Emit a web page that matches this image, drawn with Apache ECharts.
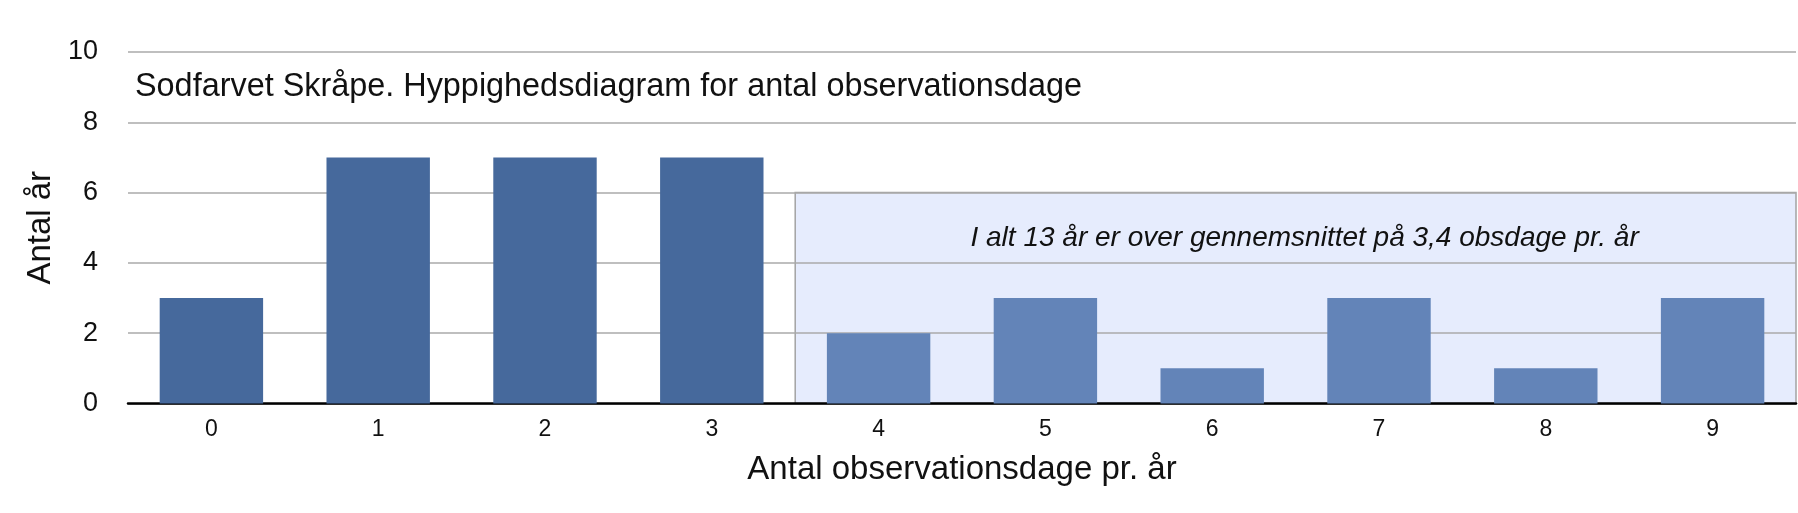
<!DOCTYPE html>
<html>
<head>
<meta charset="utf-8">
<script src="https://cdn.jsdelivr.net/npm/echarts@6/dist/echarts.min.js"></script>
<style>
html,body{margin:0;padding:0;background:#fff;}
#c{width:1798px;height:513px;}
</style>
</head>
<body>
<div id="c"></div>
<script>
const categories = ['0','1','2','3','4','5','6','7','8','9'];
const values = [3, 7, 7, 7, 2, 3, 1, 3, 1, 3];
const yTicks = [0, 2, 4, 6, 8, 10];
const highlightFrom = 3.5;
const highlightTo = 9.5;
const highlightTop = 6;
const highlightStartIndex = 4;
const titleText = 'Sodfarvet Skråpe. Hyppighedsdiagram for antal observationsdage';
const annotationText = 'I alt 13 år er over gennemsnittet på 3,4 obsdage pr. år';
const xName = 'Antal observationsdage pr. år';
const yName = 'Antal år';

const FONT = '"Liberation Sans", Helvetica, Arial, sans-serif';
const chart = echarts.init(document.getElementById('c'));
chart.setOption({
  animation: false,
  textStyle: {fontFamily: FONT},
  title: {
    text: titleText, left: 130, top: 66,
    textStyle: {fontFamily: FONT, fontSize: 32.4, fontWeight: 'normal', color: '#111'}
  },
  grid: {left: 128, right: 2, top: 52, bottom: 109.5, containLabel: false},
  xAxis: [{
    type: 'category', data: categories,
    axisTick: {show: false},
    axisLine: {lineStyle: {color: '#000', width: 2.5}},
    axisLabel: {fontSize: 23, color: '#111', margin: 15, fontFamily: FONT},
    name: xName, nameLocation: 'middle', nameGap: 50,
    nameTextStyle: {fontSize: 33, color: '#111', fontFamily: FONT}
  }, {
    type: 'value', min: -0.5, max: 9.5, show: false
  }],
  yAxis: {
    type: 'value', min: yTicks[0], max: yTicks[yTicks.length-1], interval: 2,
    axisLine: {show: false}, axisTick: {show: false},
    axisLabel: {fontSize: 27, color: '#111', margin: 30, fontFamily: FONT},
    splitLine: {lineStyle: {color: '#aaaaaa', width: 1.5}},
    name: yName, nameLocation: 'middle', nameGap: 71, nameRotate: 90,
    nameTextStyle: {fontSize: 33, color: '#111', fontFamily: FONT}
  },
  series: [{
    type: 'line', xAxisIndex: 1, yAxisIndex: 0, data: [], z: -1,
    silent: true,
    markArea: {
      silent: true, z: -1,
      itemStyle: {color: '#e6ecfd', borderColor: '#a3a3a3', borderWidth: 1.5},
      label: {
        show: true, position: 'insideTop', distance: 32, offset: [9, 0],
        fontSize: 28, fontStyle: 'italic', color: '#111', fontFamily: FONT
      },
      data: [[{name: annotationText, coord: [highlightFrom, highlightTop]}, {coord: [highlightTo, 0]}]]
    }
  }, {
    type: 'bar', data: values, barCategoryGap: '38%', z: 3,
    itemStyle: {
      color: function (p) { return p.dataIndex >= highlightStartIndex ? '#6384b8' : '#46699c'; }
    }
  }]
});
</script>
</body>
</html>
